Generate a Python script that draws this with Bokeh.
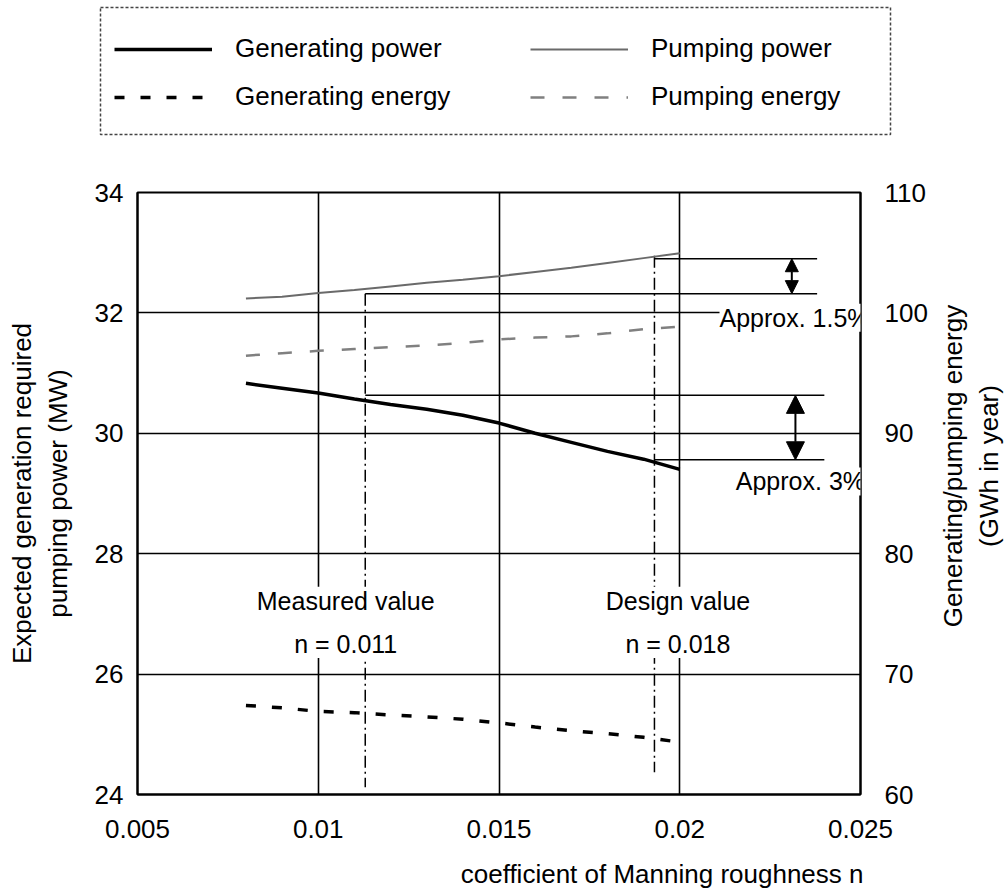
import math
import numpy as np
from bokeh.plotting import figure
from bokeh.layouts import row, column
from bokeh.models import (Range1d, LinearAxis, Legend, LegendItem, Label, Arrow,
                          NormalHead, FixedTicker)
from bokeh.embed import file_html
from bokeh.resources import INLINE

FONT = "Liberation Sans"
FS = "26px"
FS_NOTE = "25px"

# ---- data ----
roughness_n = [0.008, 0.009, 0.010, 0.011, 0.012, 0.013, 0.014, 0.015, 0.016, 0.017, 0.018, 0.019, 0.020]
generating_power = [30.83, 30.75, 30.67, 30.57, 30.48, 30.40, 30.30, 30.17, 30.00, 29.85, 29.70, 29.57, 29.40]
pumping_power = [32.24, 32.27, 32.33, 32.38, 32.44, 32.50, 32.55, 32.61, 32.68, 32.75, 32.83, 32.91, 32.99]
generating_energy = [67.4, 67.2, 66.9, 66.8, 66.6, 66.45, 66.25, 65.95, 65.6, 65.3, 65.05, 64.75, 64.35]
pumping_energy = [96.45, 96.65, 96.85, 97.0, 97.15, 97.3, 97.5, 97.8, 97.95, 98.05, 98.3, 98.65, 98.85]

x_ticks = [0.005, 0.01, 0.015, 0.02, 0.025]
x_tick_labels = ["0.005", "0.01", "0.015", "0.02", "0.025"]
power_ticks = [24, 26, 28, 30, 32, 34]
energy_ticks = [60, 70, 80, 90, 100, 110]

measured_n = 0.0113
design_n = 0.0193
marker_n = [measured_n, design_n]
marker_tops = [32.32, 32.95]
marker_bottoms = [24.12, 24.37]
pump_ref_levels = [32.32, 32.90]
gen_ref_levels = [30.63, 29.56]
pump_ref_end = [0.0238, 0.0238]
gen_ref_end = [0.0240, 0.0240]
arrow_n = [0.0231, 0.0232]

legend_col1 = ["Generating power", "Generating energy"]
legend_col2 = ["Pumping power", "Pumping energy"]
x_title = "coefficient of Manning roughness n"
left_title = "Expected generation required\npumping power (MW)"
right_title = "Generating/pumping energy\n(GWh in year)"

styles = {
    "Generating power": dict(line_color="black", line_width=3.5),
    "Pumping power": dict(line_color="#6a6a6a", line_width=2),
    "Generating energy": dict(line_color="black", line_width=3.5, line_dash="10 16"),
    "Pumping energy": dict(line_color="#808080", line_width=2.5, line_dash="14 18"),
}

# ---- page layout (pixels) ----
W, H = 1008, 888
FRAME_L, FRAME_R, FRAME_T, FRAME_B = 137, 860, 192, 794
TOP_H = 172                     # legend strip
SIDE_W = 70                     # right axis title strip
MAIN_W = W - SIDE_W
BOTTOM_BORDER = 56              # x tick labels
MAIN_H = (FRAME_T - TOP_H) + (FRAME_B - FRAME_T) + BOTTOM_BORDER
BOT_H = H - TOP_H - MAIN_H      # x axis title strip
BOX_L, BOX_R, BOX_T, BOX_B = 100, 890, 7, 134   # dotted legend box


def blank_strip(width, height):
    f = figure(width=width, height=height, x_range=Range1d(0, width), y_range=Range1d(height, 0),
               output_backend="svg", toolbar_location=None,
               x_axis_type=None, y_axis_type=None,
               min_border=0, min_border_left=0, min_border_right=0,
               min_border_top=0, min_border_bottom=0)
    f.outline_line_color = None
    f.grid.visible = False
    return f


# ---- main figure ----
p = figure(width=MAIN_W, height=MAIN_H,
           x_range=Range1d(x_ticks[0], x_ticks[-1]),
           y_range=Range1d(power_ticks[0], power_ticks[-1]),
           output_backend="svg", toolbar_location=None,
           min_border_left=FRAME_L, min_border_right=MAIN_W - FRAME_R,
           min_border_top=FRAME_T - TOP_H, min_border_bottom=BOTTOM_BORDER)
p.extra_y_ranges = {"energy": Range1d(energy_ticks[0], energy_ticks[-1])}
p.outline_line_color = "black"
p.outline_line_width = 2
p.background_fill_color = "white"
p.border_fill_color = "white"

p.xaxis.ticker = FixedTicker(ticks=x_ticks)
p.xaxis.major_label_overrides = dict(zip(x_ticks, x_tick_labels))
p.yaxis.ticker = FixedTicker(ticks=power_ticks)
p.yaxis.axis_label = left_title

right = LinearAxis(y_range_name="energy", ticker=FixedTicker(ticks=energy_ticks))
p.add_layout(right, "right")

for ax in [p.xaxis[0], p.yaxis[0], right]:
    ax.major_tick_out = 0
    ax.major_tick_in = 0
    ax.minor_tick_out = 0
    ax.minor_tick_in = 0
    ax.axis_line_color = "black"
    ax.axis_line_width = 2
    ax.major_label_text_font = FONT
    ax.major_label_text_font_size = FS
    ax.major_label_text_color = "black"
    ax.axis_label_text_font = FONT
    ax.axis_label_text_font_size = FS
    ax.axis_label_text_font_style = "normal"
    ax.axis_label_text_color = "black"

p.xaxis.major_label_standoff = 25
p.yaxis.major_label_standoff = 14
p.yaxis.axis_label_standoff = 19
right.major_label_standoff = 24

p.xgrid.ticker = FixedTicker(ticks=x_ticks[1:-1])
p.ygrid.ticker = FixedTicker(ticks=power_ticks[1:-1])
p.grid.grid_line_color = "black"
p.grid.grid_line_width = 1.6
p.grid.grid_line_alpha = 1

# reference lines
dashdot = "12 4 2 4"
p.segment(x0=marker_n, y0=marker_tops, x1=marker_n, y1=marker_bottoms,
          line_color="black", line_width=1.5, line_dash=dashdot)
p.segment(x0=marker_n, y0=pump_ref_levels, x1=pump_ref_end, y1=pump_ref_levels,
          line_color="black", line_width=1.5)
p.segment(x0=marker_n, y0=gen_ref_levels, x1=gen_ref_end, y1=gen_ref_levels,
          line_color="black", line_width=1.5)

# series
p.line(roughness_n, generating_power, **styles["Generating power"])
p.line(roughness_n, pumping_power, **styles["Pumping power"])
p.line(roughness_n, generating_energy, y_range_name="energy", **styles["Generating energy"])
p.line(roughness_n, pumping_energy, y_range_name="energy", **styles["Pumping energy"])

# arrows
p.add_layout(Arrow(start=NormalHead(size=13, fill_color="black", line_color="black"),
                   end=NormalHead(size=13, fill_color="black", line_color="black"),
                   x_start=arrow_n[0], y_start=pump_ref_levels[1],
                   x_end=arrow_n[0], y_end=pump_ref_levels[0],
                   line_width=2, line_color="black"))
p.add_layout(Arrow(start=NormalHead(size=18, fill_color="black", line_color="black"),
                   end=NormalHead(size=18, fill_color="black", line_color="black"),
                   x_start=arrow_n[1], y_start=gen_ref_levels[0],
                   x_end=arrow_n[1], y_end=gen_ref_levels[1],
                   line_width=2, line_color="black"))

def lab(x, y, text, align="left"):
    return Label(x=x, y=y, text=text, text_font=FONT, text_font_size=FS_NOTE,
                 text_color="black", text_align=align, text_baseline="middle",
                 background_fill_color="white", background_fill_alpha=1.0,
                 text_line_height=1.55)

p.add_layout(lab(0.0211, 31.92, "Approx. 1.5%"))
p.add_layout(lab(0.02155, 29.2, "Approx. 3%"))
p.add_layout(lab(0.01076, 26.86, "Measured value\nn = 0.011", align="center"))
p.add_layout(lab(0.01995, 26.86, "Design value\nn = 0.018", align="center"))

# ---- legend strip (its frame is the dotted legend box) ----
leg = figure(width=W, height=TOP_H, x_range=Range1d(0, 1), y_range=Range1d(0, 1),
             output_backend="svg", toolbar_location=None,
             x_axis_type=None, y_axis_type=None,
             min_border_left=BOX_L, min_border_right=W - BOX_R,
             min_border_top=BOX_T, min_border_bottom=TOP_H - BOX_B)
leg.grid.visible = False
leg.outline_line_color = "#444444"
leg.outline_line_width = 1.5
leg.outline_line_dash = "3 2"
# hidden one-point (NaN) renderers that only supply the legend samples
sample = {nm: leg.line(x=np.array([np.nan]), y=np.array([np.nan]), **styles[nm])
          for nm in legend_col1 + legend_col2}

def make_legend(names, x_off):
    return Legend(items=[LegendItem(label=nm, renderers=[sample[nm]]) for nm in names],
                  location=(x_off, 22), orientation="vertical",
                  label_text_font=FONT, label_text_font_size=FS, label_text_color="black",
                  glyph_width=98, glyph_height=22, label_standoff=23,
                  spacing=17, padding=0, margin=0,
                  border_line_color=None, background_fill_alpha=0)

leg.add_layout(make_legend(legend_col1, 114 - BOX_L))
leg.add_layout(make_legend(legend_col2, 530 - BOX_L))

# ---- right-hand axis title strip (reads bottom to top) ----
side = blank_strip(SIDE_W, MAIN_H)
side.add_layout(Label(x=32, y=480 - TOP_H, text=right_title, angle=math.pi / 2,
                      text_font=FONT, text_font_size=FS, text_color="black",
                      text_align="center", text_baseline="middle", text_line_height=1.2))

# ---- x axis title strip (right aligned with the frame) ----
# borders match the legend strip so the column keeps the same frame; data x == page pixels
bottom = figure(width=W, height=BOT_H, x_range=Range1d(BOX_L, BOX_R), y_range=Range1d(BOT_H, 0),
                output_backend="svg", toolbar_location=None,
                x_axis_type=None, y_axis_type=None,
                min_border_left=BOX_L, min_border_right=W - BOX_R,
                min_border_top=0, min_border_bottom=0)
bottom.outline_line_color = None
bottom.grid.visible = False
bottom.add_layout(Label(x=FRAME_R + 3, y=BOT_H / 2 + 4, text=x_title,
                        text_font=FONT, text_font_size=FS, text_color="black",
                        text_align="right", text_baseline="middle"))

open("out.html", "w").write(file_html(column(leg, row(p, side), bottom), INLINE))
